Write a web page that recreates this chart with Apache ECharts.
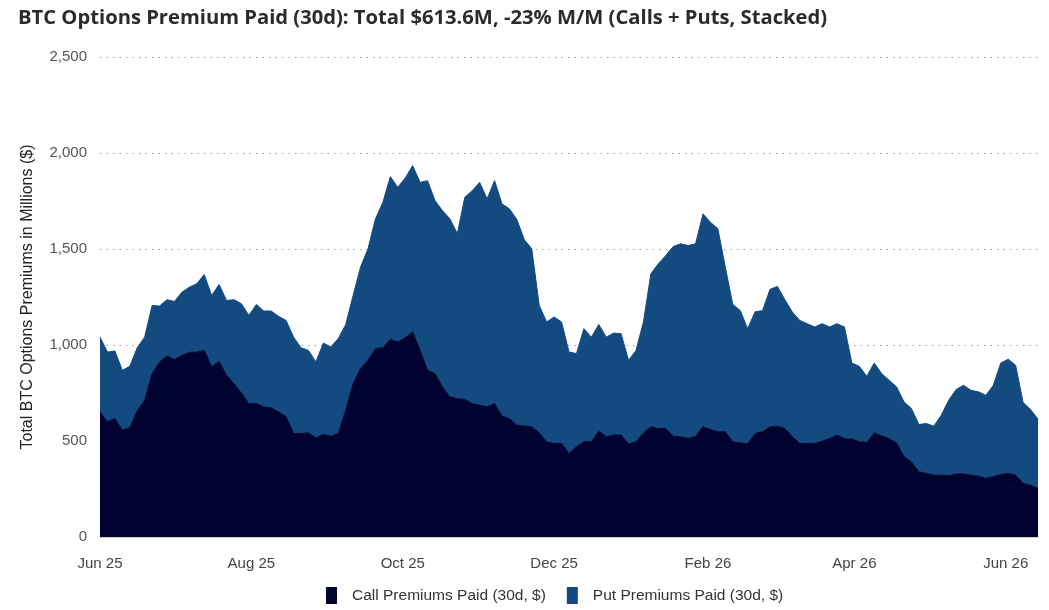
<!DOCTYPE html>
<html>
<head>
<meta charset="utf-8">
<script src="https://cdn.jsdelivr.net/npm/echarts@6/dist/echarts.min.js"></script>
<style>
  html, body { margin: 0; padding: 0; background: #ffffff; }
  #chart { width: 1049px; height: 610px; }
</style>
</head>
<body>
<div id="chart"></div>
<script>
// ---- Data (30d rolling premiums, $M), one point every 3 days from 2025-06-01 ----
const startDate = [2025, 5, 1];
const stepDays = 3;

const callPremiums = [
  652, 600, 617, 556, 570, 657, 712, 851, 911, 943,
  924, 946, 962, 962, 972, 886, 915, 842, 799, 750,
  695, 695, 678, 672, 652, 626, 539, 539, 542, 516,
  535, 525, 539, 660, 799, 877, 920, 981, 986, 1029,
  1015, 1038, 1068, 972, 868, 851, 782, 730, 721, 716,
  695, 686, 678, 695, 629, 617, 582, 579, 574, 542,
  496, 487, 487, 435, 470, 496, 496, 553, 522, 531,
  531, 484, 496, 542, 574, 565, 565, 525, 522, 513,
  525, 574, 560, 548, 548, 496, 490, 487, 539, 548,
  574, 577, 565, 522, 487, 487, 487, 499, 513, 530,
  513, 510, 496, 492, 542, 527, 513, 490, 418, 392,
  340, 331, 322, 322, 319, 328, 328, 322, 317, 305,
  314, 326, 331, 322, 279, 270, 253.4
];

const putPremiums = [
  389, 363, 352, 312, 319, 329, 329, 355, 292, 293,
  303, 329, 339, 357, 395, 372, 400, 390, 437, 465,
  459, 516, 499, 505, 497, 502, 502, 447, 430, 396,
  475, 465, 494, 446, 459, 529, 581, 676, 757, 848,
  806, 832, 866, 875, 988, 901, 918, 927, 859, 1053,
  1109, 1161, 1083, 1161, 1106, 1092, 1071, 969, 927, 664,
  624, 659, 633, 529, 485, 589, 545, 554, 519, 531,
  528, 436, 476, 578, 797, 858, 901, 988, 1005, 1005,
  1002, 1109, 1079, 1057, 857, 715, 690, 598, 634, 631,
  716, 728, 671, 650, 641, 624, 607, 612, 581, 581,
  581, 396, 393, 345, 364, 324, 303, 292, 286, 277,
  246, 260, 255, 312, 393, 440, 462, 442, 439, 433,
  476, 580, 595, 572, 421, 394, 360.2
];

// month indices (0 = Jan) that carry a tick label
const xLabelMonths = [5, 7, 9, 11, 1, 3];
const yTicks = [0, 500, 1000, 1500, 2000, 2500];
const monthNames = ['Jan','Feb','Mar','Apr','May','Jun','Jul','Aug','Sep','Oct','Nov','Dec'];

const seriesNames = ['Call Premiums Paid (30d, $)', 'Put Premiums Paid (30d, $)'];
const titleText = 'BTC Options Premium Paid (30d): Total $613.6M, -23% M/M (Calls + Puts, Stacked)';
const yAxisTitle = 'Total BTC Options Premiums in Millions ($)';

// ---- Build ----
const dates = callPremiums.map((_, i) =>
  new Date(startDate[0], startDate[1], startDate[2] + i * stepDays).getTime());

const callColor = '#020230';
const putColor = '#134a80';
const sans = 'Liberation Sans, Arial, sans-serif';

const chart = echarts.init(document.getElementById('chart'), null, { renderer: 'canvas' });
chart.setOption({
  backgroundColor: '#ffffff',
  animation: false,
  title: {
    text: titleText,
    left: 13,
    top: 3,
    textStyle: {
      fontFamily: 'Open Sans',
      fontWeight: 'bold',
      fontSize: 20.2,
      color: '#2b2b2b'
    }
  },
  legend: {
    bottom: 1,
    left: 321,
    icon: 'rect',
    itemWidth: 11,
    itemHeight: 17,
    itemGap: 21,
    textStyle: {
      fontFamily: sans,
      fontSize: 15.5,
      color: '#333',
      padding: [0, 0, 0, 10]
    },
    data: seriesNames
  },
  grid: {
    left: 100,
    right: 11,
    top: 57,
    bottom: 73,
    containLabel: false
  },
  xAxis: {
    type: 'time',
    min: dates[0],
    max: dates[dates.length - 1],
    splitNumber: 14,
    axisLine: { show: true, onZero: false, lineStyle: { color: '#cfcfcf', width: 1 } },
    axisTick: { show: false },
    splitLine: { show: false },
    axisLabel: {
      margin: 19,
      fontFamily: sans,
      fontSize: 15,
      color: '#444',
      fontWeight: 'normal',
      hideOverlap: false,
      showMinLabel: true,
      showMaxLabel: false,
      rich: {},
      formatter: function (val) {
        const d = new Date(val);
        if (d.getDate() !== 1 || xLabelMonths.indexOf(d.getMonth()) < 0) return '';
        return monthNames[d.getMonth()] + ' ' + String(d.getFullYear()).slice(2);
      }
    }
  },
  yAxis: {
    type: 'value',
    min: yTicks[0],
    max: yTicks[yTicks.length - 1],
    interval: 500,
    name: yAxisTitle,
    nameLocation: 'middle',
    nameGap: 64,
    nameTextStyle: {
      fontFamily: sans,
      fontSize: 16,
      color: '#222'
    },
    axisLine: { show: false },
    axisTick: { show: false },
    axisLabel: {
      margin: 13,
      fontFamily: sans,
      fontSize: 15,
      color: '#555',
      formatter: v => v.toLocaleString('en-US')
    },
    splitLine: {
      show: true,
      lineStyle: { color: '#9a9a9a', width: 1, type: [1.5, 5] }
    }
  },
  series: [
    {
      name: seriesNames[0],
      type: 'line',
      stack: 'total',
      showSymbol: false,
      symbol: 'none',
      lineStyle: { width: 1, color: callColor },
      itemStyle: { color: callColor },
      areaStyle: { color: callColor, opacity: 1 },
      data: dates.map((t, i) => [t, callPremiums[i]]),
      z: 3
    },
    {
      name: seriesNames[1],
      type: 'line',
      stack: 'total',
      showSymbol: false,
      symbol: 'none',
      lineStyle: { width: 1, color: putColor },
      itemStyle: { color: putColor },
      areaStyle: { color: putColor, opacity: 1 },
      data: dates.map((t, i) => [t, putPremiums[i]]),
      z: 2
    }
  ]
});
</script>
</body>
</html>
